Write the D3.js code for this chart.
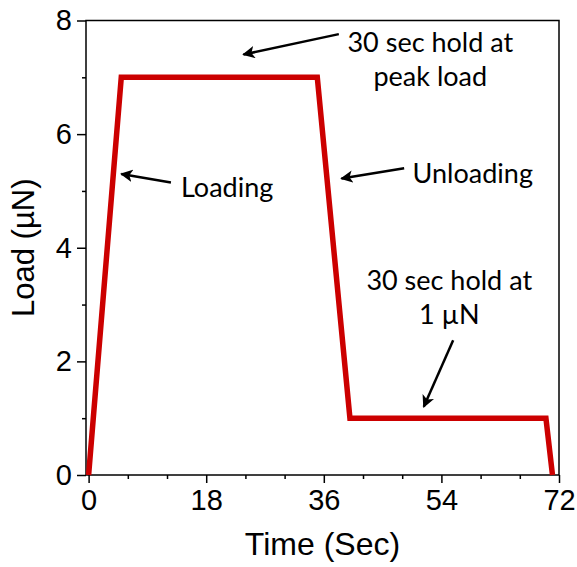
<!DOCTYPE html>
<html>
<head>
<meta charset="utf-8">
<script src="https://cdn.jsdelivr.net/npm/d3@7"></script>
<style>
  html, body { margin: 0; padding: 0; background: #fff; }
  svg { display: block; }
</style>
</head>
<body>
<svg id="chart" width="577" height="567"></svg>
<script>
// Load schedule of the nanoindentation test: time (s) and load (µN)
const timeSec = [0, 5, 35, 40, 70, 71];
const loadMicroN = [0, 7, 7, 1, 1, 0];

const xMajorTicks = [0, 18, 36, 54, 72];
const xMinorTicks = [6, 12, 24, 30, 42, 48, 60, 66];
const yMajorTicks = [0, 2, 4, 6, 8];
const yMinorTicks = [1, 3, 5, 7];

// Callouts: text lines, anchor point of the text and the arrow (data units)
const notes = [
  { lines: ["30 sec hold at", "peak load"], tx: 52.3, ty: 7.45, from: [38.3, 7.76], to: [23.7, 7.4] },
  { lines: ["Loading"], tx: 21.2, ty: 4.89, from: [12.6, 5.15], to: [5.0, 5.3] },
  { lines: ["Unloading"], tx: 58.8, ty: 5.14, from: [48.3, 5.4], to: [38.7, 5.22] },
  { lines: ["30 sec hold at", "1 µN"], tx: 55.2, ty: 3.26, from: [55.8, 2.37], to: [51.3, 1.2] }
];

const W = 577, H = 567;
const m = { left: 86, right: 18, top: 20.5, bottom: 92 };
const svg = d3.select("#chart");

const x = d3.scaleLinear().domain([-0.4, 72]).range([m.left, W - m.right]);
const y = d3.scaleLinear().domain([0, 8]).range([H - m.bottom, m.top]);

const axisFont = "'Liberation Sans', Arial, sans-serif";
const noteFont = "Lato, 'Open Sans', sans-serif";

// Frame
svg.append("rect")
  .attr("x", x.range()[0]).attr("y", y.range()[1])
  .attr("width", x.range()[1] - x.range()[0])
  .attr("height", y.range()[0] - y.range()[1])
  .attr("fill", "none").attr("stroke", "#000").attr("stroke-width", 1.5);

// Bottom axis: major ticks with labels, minor ticks without
const xAxisG = svg.append("g").attr("transform", `translate(0,${y.range()[0]})`);
xAxisG.call(d3.axisBottom(x).tickValues(xMajorTicks).tickSize(8).tickPadding(6).tickSizeOuter(0));
xAxisG.append("g").call(d3.axisBottom(x).tickValues(xMinorTicks).tickSize(4).tickFormat("").tickSizeOuter(0));

const yAxisG = svg.append("g").attr("transform", `translate(${x.range()[0]},0)`);
yAxisG.call(d3.axisLeft(y).tickValues(yMajorTicks).tickSize(9).tickPadding(5).tickSizeOuter(0));
yAxisG.append("g").call(d3.axisLeft(y).tickValues(yMinorTicks).tickSize(4).tickFormat("").tickSizeOuter(0));

svg.selectAll(".domain").remove();
svg.selectAll(".tick line").attr("stroke", "#000").attr("stroke-width", 1.5);
svg.selectAll(".tick text")
  .attr("font-family", axisFont).attr("font-size", 29).attr("fill", "#000");

// Axis titles
svg.append("text")
  .attr("x", (x.range()[0] + x.range()[1]) / 2).attr("y", 555)
  .attr("text-anchor", "middle")
  .attr("font-family", axisFont).attr("font-size", 32)
  .text("Time (Sec)");

svg.append("text")
  .attr("transform", `translate(34,${(y.range()[0] + y.range()[1]) / 2}) rotate(-90)`)
  .attr("text-anchor", "middle")
  .attr("font-family", axisFont).attr("font-size", 31)
  .text("Load (µN)");

// Load curve
const line = d3.line().x(d => x(d[0])).y(d => y(d[1]));
svg.append("path")
  .datum(timeSec.map((t, i) => [t, loadMicroN[i]]))
  .attr("d", line)
  .attr("fill", "none")
  .attr("stroke", "#cc0000")
  .attr("stroke-width", 5.5)
  .attr("stroke-linejoin", "miter");

// Arrowhead
svg.append("defs").append("marker")
  .attr("id", "head")
  .attr("viewBox", "0 0 10 10")
  .attr("refX", 9).attr("refY", 5)
  .attr("markerWidth", 5).attr("markerHeight", 5)
  .attr("markerUnits", "strokeWidth")
  .attr("orient", "auto")
  .append("path").attr("d", "M0,0 L10,5 L0,10 L2.5,5 Z").attr("fill", "#000");

const noteG = svg.append("g");
notes.forEach(n => {
  noteG.append("line")
    .attr("x1", x(n.from[0])).attr("y1", y(n.from[1]))
    .attr("x2", x(n.to[0])).attr("y2", y(n.to[1]))
    .attr("stroke", "#000").attr("stroke-width", 2.5)
    .attr("marker-end", "url(#head)");
  const t = noteG.append("text")
    .attr("x", x(n.tx)).attr("y", y(n.ty))
    .attr("text-anchor", "middle")
    .attr("font-family", noteFont).attr("font-size", 27).attr("fill", "#000");
  n.lines.forEach((s, i) => {
    t.append("tspan").attr("x", x(n.tx)).attr("dy", i === 0 ? 0 : 34).text(s);
  });
});
</script>
</body>
</html>
